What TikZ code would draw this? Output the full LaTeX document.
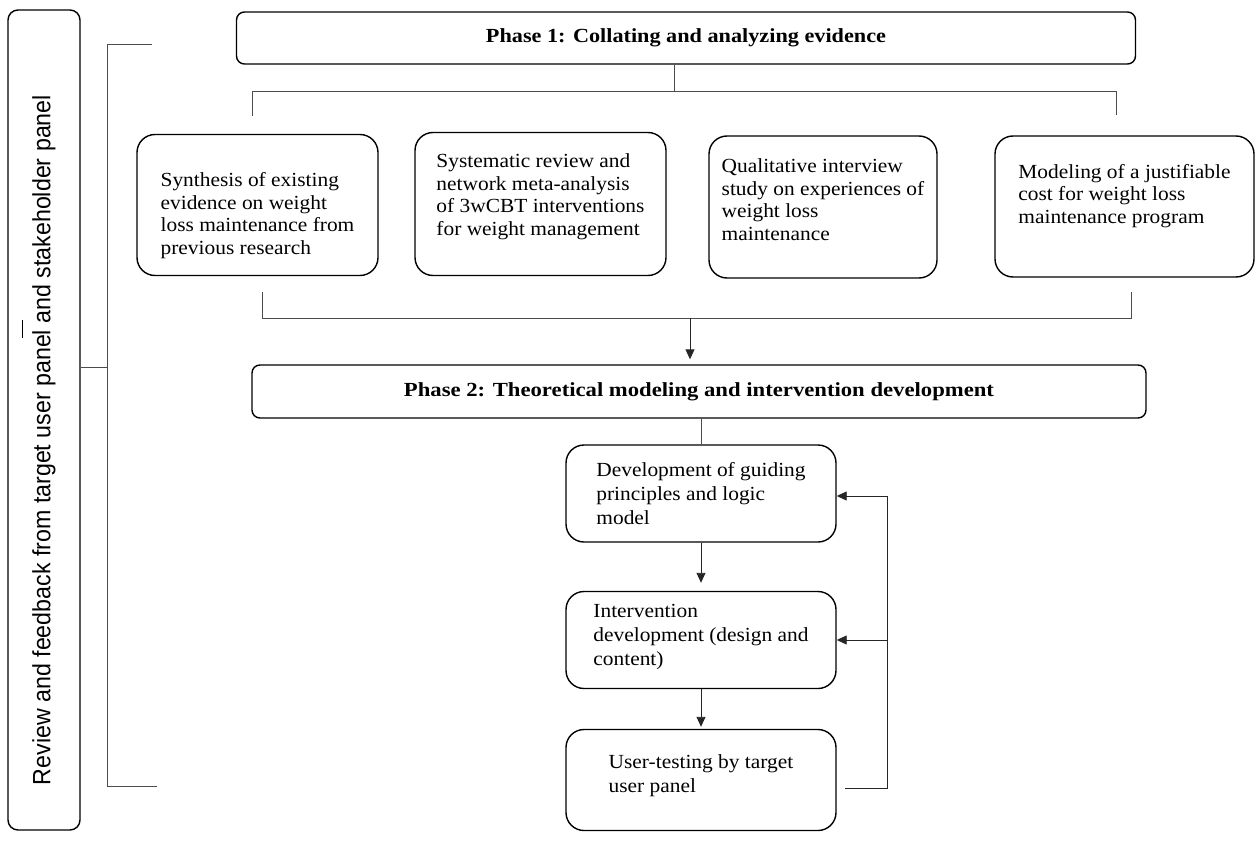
\documentclass[tikz,border=0pt]{standalone}
\usepackage{fontspec}
\usepackage{graphicx}
\setmainfont{Liberation Serif}[FakeStretch=1.07]
\newfontfamily\sidefont{Liberation Sans}
\usetikzlibrary{arrows.meta}
\newcommand\boxtext[2]{\raisebox{\dimexpr#1pt-5pt\relax}[0pt][0pt]{\begin{tabular}[c]{@{}l@{}}#2\end{tabular}}}
\begin{document}
\begin{tikzpicture}[x=1pt,y=-1pt,
  box/.style={draw, line width=1.4pt, rounded corners=18pt, inner sep=0pt,
    font=\fontsize{20}{24}\selectfont},
  ebox/.style={box, font=\fontsize{20}{22.5}\selectfont},
  phase/.style={draw, line width=1.4pt, rounded corners=8pt, inner sep=0pt,
    font=\bfseries\fontsize{20}{24}\selectfont},
  conn/.style={line width=0.9pt, draw=black!70},
  arr/.style={line width=0.9pt, draw=black!85, -{Triangle[length=10pt,width=9pt]}}]
\useasboundingbox (0,0) rectangle (1256,859);

% left side panel
\node[draw, line width=1.4pt, rounded corners=10pt, rotate=90, minimum width=820pt,
  minimum height=72pt, inner sep=0pt, font=\sidefont\fontsize{25}{28}\selectfont]
  (side) at (44,420) {\resizebox{690pt}{\height}{Review and feedback from target user panel and stakeholder panel}\hspace*{40pt}};
\coordinate (dashA) at (22,320);
\coordinate (dashB) at (22,338);
\draw[line width=1pt] (dashA) -- (dashB);

% bracket
\coordinate (brT) at (152,44);
\coordinate (brTL) at (107,44);
\coordinate (brM) at (107,367);
\coordinate (brBL) at (107,786);
\coordinate (brB) at (157,786);
\draw[conn] (brT) -- (brTL) -- (brBL) -- (brB);
\draw[conn] (brM -| side.south) -- (brM);

% phase 1
\node[phase, minimum width=899pt, minimum height=52pt] (p1) at (686,38)
  {\resizebox{400pt}{\height}{Phase 1: Collating and analyzing evidence}};

% evidence boxes
\node[ebox, minimum width=241pt, minimum height=141pt] (e1) at (257.5,205)
  {\boxtext{-11}{Synthesis of existing\\ evidence on weight\\ loss maintenance from\\ previous research}};
\node[ebox, minimum width=251pt, minimum height=143pt] (e2) at (540.5,204)
  {\boxtext{7}{Systematic review and\\ network meta-analysis\\ of 3wCBT interventions\\ for weight management}};
\node[ebox, minimum width=228pt, minimum height=142pt] (e3) at (823,207)
  {\boxtext{5}{Qualitative interview\\ study on experiences of\\ weight loss\\ maintenance}};
\node[ebox, minimum width=259pt, minimum height=141pt] (e4) at (1124.5,206.5)
  {\boxtext{10}{Modeling of a justifiable\\ cost for weight loss\\ maintenance program}};

% top bracket
\coordinate (tb) at (674,91);
\coordinate (tbL) at (252,91);
\coordinate (tbLd) at (252,116);
\coordinate (tbR) at (1116,91);
\coordinate (tbRd) at (1116,115);
\draw[conn] (p1.south -| tb) -- (tb);
\draw[conn] (tbLd) -- (tbL) -- (tbR) -- (tbRd);

% bottom bracket
\coordinate (bbLu) at (262,292);
\coordinate (bbL) at (262,318);
\coordinate (bbR) at (1131,318);
\coordinate (bbRu) at (1131,292);
\coordinate (bb) at (690,318);
\draw[conn] (bbLu) -- (bbL) -- (bbR) -- (bbRu);

% phase 2
\node[phase, minimum width=894pt, minimum height=53pt] (p2) at (699,391.5)
  {\resizebox{590pt}{\height}{Phase 2: Theoretical modeling and intervention development}};
\draw[arr, shorten >=5pt] (bb) -- (p2.north -| bb);

% development boxes
\node[box, minimum width=270pt, minimum height=97pt] (A) at (701,493.5)
  {\boxtext{-2}{Development of guiding\\ principles and logic\\ model}};
\node[box, minimum width=270pt, minimum height=97pt] (B) at (701,640)
  {\boxtext{3}{Intervention\\ development (design and\\ content)}};
\node[box, minimum width=270pt, minimum height=101pt] (C) at (701,780)
  {\boxtext{4}{User-testing by target\\ user panel}};

\draw[conn] (p2.south -| A.north) -- (A.north);
\draw[arr, shorten >=8pt] (A.south) -- (B.north);
\draw[arr, shorten >=2pt] (B.south) -- (C.north);

% feedback loop
\coordinate (fb1) at (845,788);
\coordinate (fb2) at (887,788);
\coordinate (fb3) at (887,496);
\draw[arr] (fb1) -- (fb2) -- (fb3) -- (fb3 -| A.east);
\draw[arr] (B.east -| fb2) -- (B.east);
\end{tikzpicture}
\end{document}
